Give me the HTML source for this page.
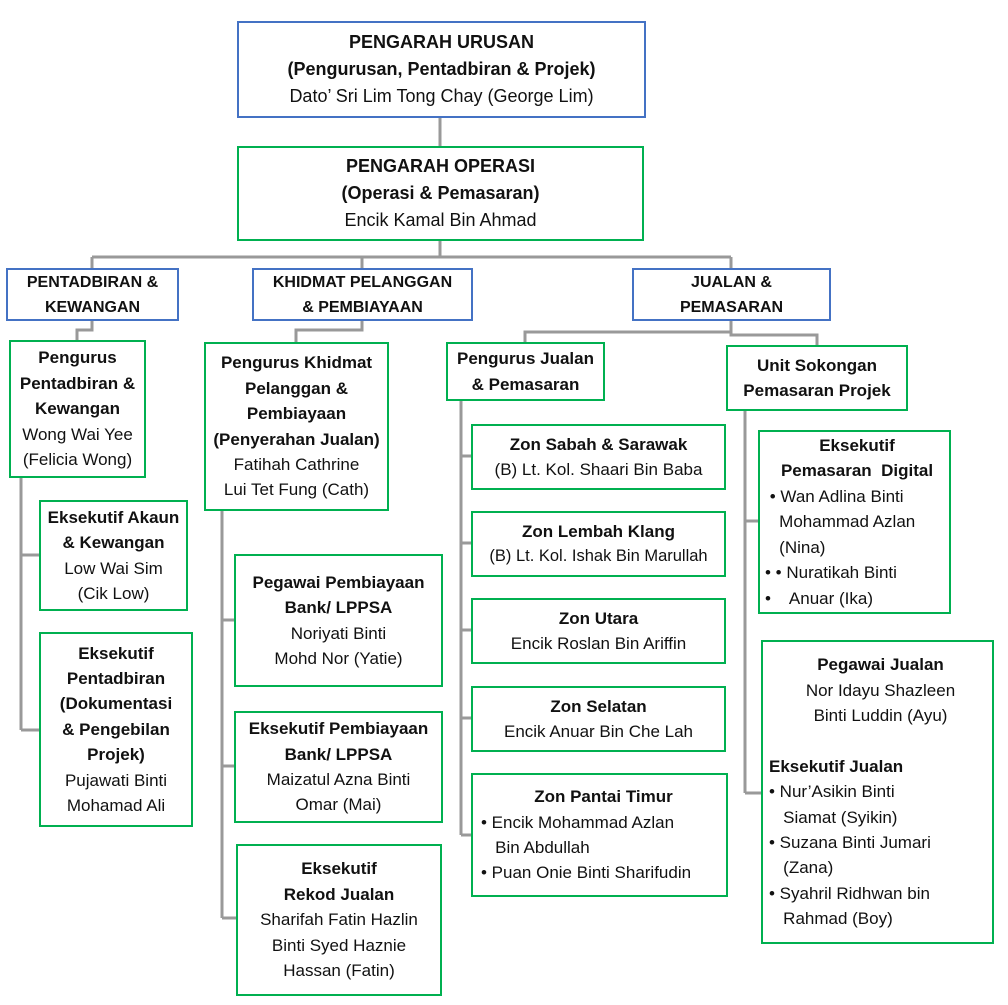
<!DOCTYPE html>
<html><head><meta charset="utf-8"><style>
body{margin:0;width:1008px;height:1005px;background:#fff;position:relative;overflow:hidden;font-family:"Liberation Sans",Arial,sans-serif;color:#111}
.b{position:absolute;box-sizing:border-box;border:2px solid #00b050;display:flex;flex-direction:column;justify-content:center;align-items:center;text-align:center;font-size:17px;line-height:25.4px;white-space:nowrap}
.u{border-color:#4472c4}
.t{font-weight:bold}
.l{align-self:flex-start;text-align:left}
svg{position:absolute;left:0;top:0}
</style></head><body>
<svg width="1008" height="1005"><g stroke="#999" stroke-width="3" fill="none">
<path d="M440 117V146M440 240V257M92 257H731M92 257V268M362 257V268M731 257V268"/>
<path d="M92 320V330H77V340M362 320V330H296V342M731 320V332H525V342M731 332V335H817V345"/>
<path d="M21 477V730M21 555H39M21 730H39"/>
<path d="M222 510V918M222 620H234M222 766H234M222 918H236"/>
<path d="M461 400V835M461 456H471M461 543H471M461 630H471M461 718H471M461 835H471"/>
<path d="M745 410V793M745 521H758M745 793H761"/>
</g></svg>
<div class="b u" style="left:237px;top:21px;width:409px;height:97px;font-size:18px;line-height:27px"><div class="t">PENGARAH URUSAN</div><div class="t">(Pengurusan, Pentadbiran &amp; Projek)</div><div>Dato’ Sri Lim Tong Chay (George Lim)</div></div>
<div class="b" style="left:237px;top:146px;width:407px;height:95px;font-size:18px;line-height:27px"><div class="t">PENGARAH OPERASI</div><div class="t">(Operasi &amp; Pemasaran)</div><div>Encik Kamal Bin Ahmad</div></div>
<div class="b u t" style="left:6px;top:268px;width:173px;height:53px;font-size:16px;line-height:25px"><div>PENTADBIRAN &amp;</div><div>KEWANGAN</div></div>
<div class="b u t" style="left:252px;top:268px;width:221px;height:53px;font-size:16px;line-height:25px"><div>KHIDMAT PELANGGAN</div><div>&amp; PEMBIAYAAN</div></div>
<div class="b u t" style="left:632px;top:268px;width:199px;height:53px;font-size:16px;line-height:25px"><div>JUALAN &amp;</div><div>PEMASARAN</div></div>

<div class="b" style="left:9px;top:340px;width:137px;height:138px"><div class="t">Pengurus</div><div class="t">Pentadbiran &amp;</div><div class="t">Kewangan</div><div>Wong Wai Yee</div><div>(Felicia Wong)</div></div>
<div class="b" style="left:39px;top:500px;width:149px;height:111px"><div class="t">Eksekutif Akaun</div><div class="t">&amp; Kewangan</div><div>Low Wai Sim</div><div>(Cik Low)</div></div>
<div class="b" style="left:39px;top:632px;width:154px;height:195px"><div class="t">Eksekutif</div><div class="t">Pentadbiran</div><div class="t">(Dokumentasi</div><div class="t">&amp; Pengebilan</div><div class="t">Projek)</div><div>Pujawati Binti</div><div>Mohamad Ali</div></div>

<div class="b" style="left:204px;top:342px;width:185px;height:169px"><div class="t">Pengurus Khidmat</div><div class="t">Pelanggan &amp;</div><div class="t">Pembiayaan</div><div class="t">(Penyerahan Jualan)</div><div>Fatihah Cathrine</div><div>Lui Tet Fung (Cath)</div></div>
<div class="b" style="left:234px;top:554px;width:209px;height:133px"><div class="t">Pegawai Pembiayaan</div><div class="t">Bank/ LPPSA</div><div>Noriyati Binti</div><div>Mohd Nor (Yatie)</div></div>
<div class="b" style="left:234px;top:711px;width:209px;height:112px"><div class="t">Eksekutif Pembiayaan</div><div class="t">Bank/ LPPSA</div><div>Maizatul Azna Binti</div><div>Omar (Mai)</div></div>
<div class="b" style="left:236px;top:844px;width:206px;height:152px"><div class="t">Eksekutif</div><div class="t">Rekod Jualan</div><div>Sharifah Fatin Hazlin</div><div>Binti Syed Haznie</div><div>Hassan (Fatin)</div></div>

<div class="b t" style="left:446px;top:342px;width:159px;height:59px"><div>Pengurus Jualan</div><div>&amp; Pemasaran</div></div>
<div class="b" style="left:471px;top:424px;width:255px;height:66px"><div class="t">Zon Sabah &amp; Sarawak</div><div>(B) Lt. Kol. Shaari Bin Baba</div></div>
<div class="b" style="left:471px;top:511px;width:255px;height:66px"><div class="t">Zon Lembah Klang</div><div style="font-size:16.5px">(B) Lt. Kol. Ishak Bin Marullah</div></div>
<div class="b" style="left:471px;top:598px;width:255px;height:66px"><div class="t">Zon Utara</div><div>Encik Roslan Bin Ariffin</div></div>
<div class="b" style="left:471px;top:686px;width:255px;height:66px"><div class="t">Zon Selatan</div><div>Encik Anuar Bin Che Lah</div></div>
<div class="b" style="left:471px;top:773px;width:257px;height:124px;align-items:flex-start;padding-left:8px"><div class="t" style="align-self:center">Zon Pantai Timur</div><div>• Encik Mohammad Azlan</div><div>&nbsp;&nbsp;&nbsp;Bin Abdullah</div><div>• Puan Onie Binti Sharifudin</div></div>

<div class="b t" style="left:726px;top:345px;width:182px;height:66px"><div>Unit Sokongan</div><div>Pemasaran Projek</div></div>
<div class="b" style="left:758px;top:430px;width:193px;height:184px;align-items:flex-start;padding-left:5px"><div class="t" style="align-self:center">Eksekutif</div><div class="t" style="align-self:center">Pemasaran&nbsp; Digital</div><div>&nbsp;• Wan Adlina Binti</div><div>&nbsp;&nbsp;&nbsp;Mohammad Azlan</div><div>&nbsp;&nbsp;&nbsp;(Nina)</div><div>• • Nuratikah Binti</div><div>•&nbsp;&nbsp;&nbsp; Anuar (Ika)</div></div>
<div class="b" style="left:761px;top:640px;width:233px;height:304px;align-items:flex-start;padding-left:6px"><div class="t" style="align-self:center">Pegawai Jualan</div><div style="align-self:center">Nor Idayu Shazleen</div><div style="align-self:center">Binti Luddin (Ayu)</div><div style="height:25px"></div><div class="t">Eksekutif Jualan</div><div>• Nur’Asikin Binti</div><div>&nbsp;&nbsp;&nbsp;Siamat (Syikin)</div><div>• Suzana Binti Jumari</div><div>&nbsp;&nbsp;&nbsp;(Zana)</div><div>• Syahril Ridhwan bin</div><div>&nbsp;&nbsp;&nbsp;Rahmad (Boy)</div></div>
</body></html>
